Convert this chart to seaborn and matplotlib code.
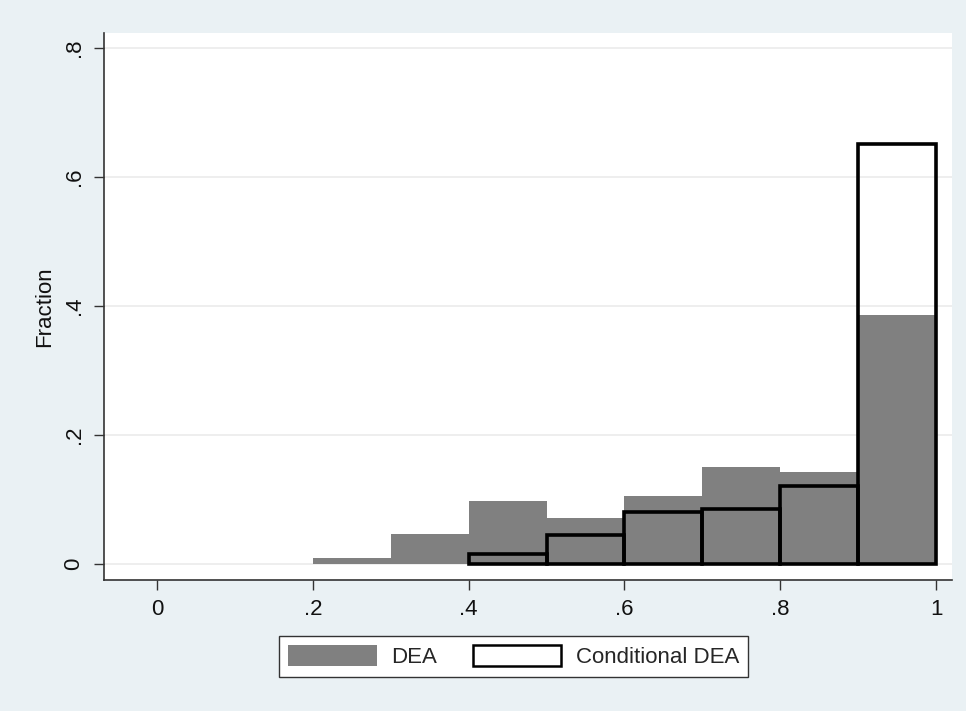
import numpy as np
import matplotlib
matplotlib.use("Agg")
import matplotlib.pyplot as plt
from matplotlib.patches import Patch
import seaborn as sns

# bin edges and fractions
bin_edges = [0.2, 0.3, 0.4, 0.5, 0.6, 0.7, 0.8, 0.9, 1.0]
dea_frac = [0.010, 0.047, 0.098, 0.072, 0.106, 0.151, 0.142, 0.386]
cond_frac = [0.0, 0.0, 0.015, 0.045, 0.080, 0.085, 0.121, 0.651]

xticks = [0, 0.2, 0.4, 0.6, 0.8, 1.0]
xtick_labels = ["0", ".2", ".4", ".6", ".8", "1"]
yticks = [0, 0.2, 0.4, 0.6, 0.8]
ytick_labels = ["0", ".2", ".4", ".6", ".8"]

centers = [(a + b) / 2 for a, b in zip(bin_edges[:-1], bin_edges[1:])]

sns.set_style("white")
plt.rcParams["font.family"] = ["Liberation Sans", "DejaVu Sans"]

bg = "#EAF1F4"
grey = "#808080"
fs = 16

fig = plt.figure(figsize=(9.66, 7.11), dpi=100, facecolor=bg)
ax = fig.add_axes([0.1077, 0.1842, 0.8778, 0.7694])
ax.set_facecolor("white")

sns.histplot(x=centers, weights=dea_frac, bins=bin_edges, stat="count",
             color=grey, alpha=1, edgecolor=grey, linewidth=0,
             ax=ax, zorder=2)
sns.histplot(x=centers, weights=cond_frac, bins=bin_edges, stat="count",
             fill=False, color="black", edgecolor="black", linewidth=2.6,
             ax=ax, zorder=3)

# drop empty outline bars
for p in ax.patches[len(dea_frac):]:
    if p.get_height() == 0:
        p.set_visible(False)

ax.set_xlim(-0.068, 1.0205)
ax.set_ylim(-0.0248, 0.823)
ax.set_xticks(xticks)
ax.set_xticklabels(xtick_labels, fontsize=fs)
ax.set_yticks(yticks)
ax.set_yticklabels(ytick_labels, fontsize=fs, rotation=90, va="center")
ax.tick_params(axis="both", direction="out", length=7, width=1, color="#333333",
               pad=7, left=True, bottom=True, labelcolor="#111111")
ax.yaxis.grid(True, color="#EBEBEB", linewidth=1.2, zorder=0)
ax.set_axisbelow(True)
ax.set_xlabel("")
ax.set_ylabel("Fraction", fontsize=fs, labelpad=6, color="#111111")

for s in ["top", "right"]:
    ax.spines[s].set_visible(False)
for s in ["left", "bottom"]:
    ax.spines[s].set_color("#333333")
    ax.spines[s].set_linewidth(1.2)

handles = [Patch(facecolor=grey, edgecolor=grey, linewidth=0),
           Patch(facecolor="white", edgecolor="black", linewidth=1.8)]
labels = ["DEA", "Conditional DEA"]
leg = fig.legend(handles, labels, loc="center", bbox_to_anchor=(0.5316, 0.0767),
                 ncol=2, fontsize=fs, frameon=True, fancybox=False,
                 handlelength=4.0, handleheight=1.1, columnspacing=1.6,
                 borderpad=0.4, handletextpad=0.65)
leg.get_frame().set_edgecolor("#333333")
leg.get_frame().set_facecolor("white")
leg.get_frame().set_alpha(1)
leg.get_frame().set_linewidth(1.0)

fig.savefig("out.png", dpi=100, facecolor=bg)
